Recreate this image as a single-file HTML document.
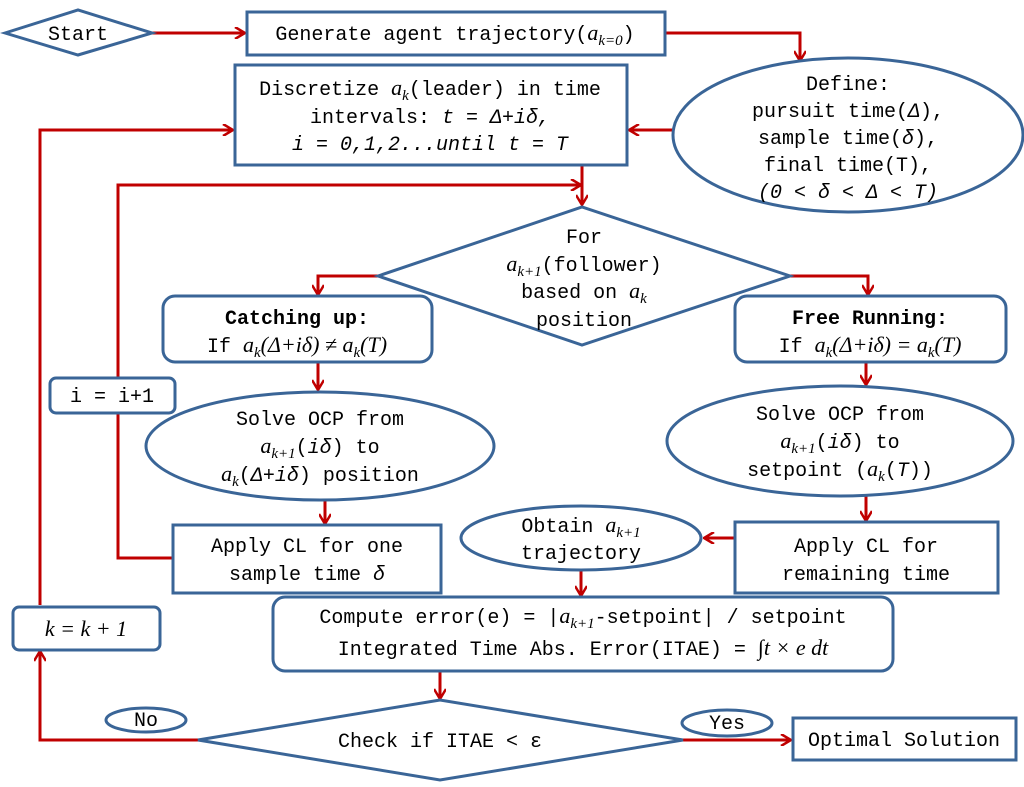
<!DOCTYPE html>
<html><head><meta charset="utf-8"><style>
html,body{margin:0;padding:0;background:#fff}
svg{display:block}
text{font-family:"Liberation Mono",monospace;font-size:20px;fill:#000}
.m{font-family:"Liberation Serif",serif;font-style:italic;font-size:22px}
.s{font-family:"Liberation Serif",serif;font-style:italic;font-size:15px}
.b{font-weight:bold}
</style></head><body>
<svg width="1024" height="787" viewBox="0 0 1024 787" xmlns="http://www.w3.org/2000/svg">
<defs><marker id="a" markerWidth="12" markerHeight="12" refX="10" refY="6" orient="auto" markerUnits="userSpaceOnUse"><path d="M1,0 L11,6 L1,12" fill="none" stroke="#c00000" stroke-width="2.5"/></marker></defs>
<g fill="none" stroke="#c00000" stroke-width="3">
<path d="M152,33 H244" marker-end="url(#a)"/>
<path d="M665,33 H800 V60" marker-end="url(#a)"/>
<path d="M673,130 H630" marker-end="url(#a)"/>
<path d="M40,605 V130 H232" marker-end="url(#a)"/>
<path d="M582,165 V204" marker-end="url(#a)"/>
<path d="M173,558 H118 V185 H580" marker-end="url(#a)"/>
<path d="M378,276 H318 V294" marker-end="url(#a)"/>
<path d="M790,276 H868 V294" marker-end="url(#a)"/>
<path d="M318,362 V389" marker-end="url(#a)"/>
<path d="M325,500 V523" marker-end="url(#a)"/>
<path d="M866,362 V384" marker-end="url(#a)"/>
<path d="M866,496 V520" marker-end="url(#a)"/>
<path d="M735,538 H705" marker-end="url(#a)"/>
<path d="M581,570 V595" marker-end="url(#a)"/>
<path d="M440,671 V698" marker-end="url(#a)"/>
<path d="M198,740 H40 V652" marker-end="url(#a)"/>
<path d="M683,740 H790" marker-end="url(#a)"/>
</g>
<g fill="#fff" stroke="#3a6597" stroke-width="3">
<polygon points="5,33 78,10 152,33 78,55"/>
<rect x="247" y="12" width="418" height="43"/>
<rect x="235" y="65" width="392" height="100"/>
<ellipse cx="848" cy="135" rx="175" ry="77"/>
<polygon points="378,276 582,207 790,276 582,345"/>
<rect x="163" y="296" width="269" height="66" rx="12"/>
<rect x="735" y="296" width="271" height="66" rx="12"/>
<rect x="50" y="378" width="125" height="35" rx="6"/>
<ellipse cx="320" cy="446" rx="174" ry="54"/>
<ellipse cx="840" cy="441" rx="173" ry="55"/>
<rect x="173" y="525" width="268" height="68"/>
<rect x="735" y="522" width="263" height="71"/>
<ellipse cx="581" cy="538" rx="120" ry="32"/>
<rect x="273" y="597" width="620" height="74" rx="12"/>
<rect x="13" y="607" width="147" height="43" rx="6"/>
<polygon points="198,740 440,700 683,740 440,780"/>
<ellipse cx="146" cy="720" rx="40" ry="12"/>
<ellipse cx="727" cy="723" rx="45" ry="13"/>
<rect x="793" y="718" width="223" height="42"/>
</g>
<g text-anchor="middle">
<text x="78" y="40">Start</text>
<text x="455" y="40">Generate agent trajectory(<tspan class="m">a</tspan><tspan class="s" dy="5">k=0</tspan><tspan dy="-5">)</tspan></text>
<text x="430" y="95">Discretize <tspan class="m">a</tspan><tspan class="s" dy="5">k</tspan><tspan dy="-5">(leader) in time</tspan></text>
<text x="430" y="123">intervals: <tspan font-style="italic">t = Δ+iδ,</tspan></text>
<text x="430" y="150" font-style="italic">i = 0,1,2...until t = T</text>
<text x="848" y="90">Define:</text>
<text x="848" y="117">pursuit time(<tspan font-style="italic">Δ</tspan>),</text>
<text x="848" y="144">sample time(<tspan font-style="italic">δ</tspan>),</text>
<text x="848" y="171">final time(T),</text>
<text x="848" y="198" font-style="italic">(0 &lt; δ &lt; Δ &lt; T)</text>
<text x="584" y="243">For</text>
<text x="584" y="271"><tspan class="m">a</tspan><tspan class="s" dy="5">k+1</tspan><tspan dy="-5">(follower)</tspan></text>
<text x="584" y="298">based on <tspan class="m">a</tspan><tspan class="s" dy="5">k</tspan></text>
<text x="584" y="326">position</text>
<text x="297" y="324" class="b">Catching up:</text>
<text x="297" y="352">If <tspan class="m">a</tspan><tspan class="s" dy="5">k</tspan><tspan dy="-5" class="m">(Δ+iδ) ≠ a</tspan><tspan class="s" dy="5">k</tspan><tspan dy="-5" class="m">(T)</tspan></text>
<text x="870" y="324" class="b">Free Running:</text>
<text x="870" y="352">If <tspan class="m">a</tspan><tspan class="s" dy="5">k</tspan><tspan dy="-5" class="m">(Δ+iδ) = a</tspan><tspan class="s" dy="5">k</tspan><tspan dy="-5" class="m">(T)</tspan></text>
<text x="112" y="402">i = i+1</text>
<text x="320" y="425">Solve OCP from</text>
<text x="320" y="453"><tspan class="m">a</tspan><tspan class="s" dy="5">k+1</tspan><tspan dy="-5">(</tspan><tspan font-style="italic">iδ</tspan>) to</text>
<text x="320" y="481"><tspan class="m">a</tspan><tspan class="s" dy="5">k</tspan><tspan dy="-5">(</tspan><tspan font-style="italic">Δ+iδ</tspan>) position</text>
<text x="840" y="420">Solve OCP from</text>
<text x="840" y="448"><tspan class="m">a</tspan><tspan class="s" dy="5">k+1</tspan><tspan dy="-5">(</tspan><tspan font-style="italic">iδ</tspan>) to</text>
<text x="840" y="476">setpoint (<tspan class="m">a</tspan><tspan class="s" dy="5">k</tspan><tspan dy="-5">(</tspan><tspan font-style="italic">T</tspan>))</text>
<text x="307" y="552">Apply CL for one</text>
<text x="307" y="580">sample time <tspan font-style="italic">δ</tspan></text>
<text x="866" y="552">Apply CL for</text>
<text x="866" y="580">remaining time</text>
<text x="581" y="532">Obtain <tspan class="m">a</tspan><tspan class="s" dy="5">k+1</tspan></text>
<text x="581" y="559">trajectory</text>
<text x="583" y="623">Compute error(e) = |<tspan class="m">a</tspan><tspan class="s" dy="5">k+1</tspan><tspan dy="-5">-setpoint| / setpoint</tspan></text>
<text x="583" y="655">Integrated Time Abs. Error(ITAE) = <tspan class="m">∫t × e dt</tspan></text>
<text x="86" y="636" class="m">k = k + 1</text>
<text x="440" y="747">Check if ITAE &lt; ε</text>
<text x="146" y="726" font-size="17">No</text>
<text x="727" y="729" font-size="17">Yes</text>
<text x="904" y="746">Optimal Solution</text>
</g>
</svg>
</body></html>
